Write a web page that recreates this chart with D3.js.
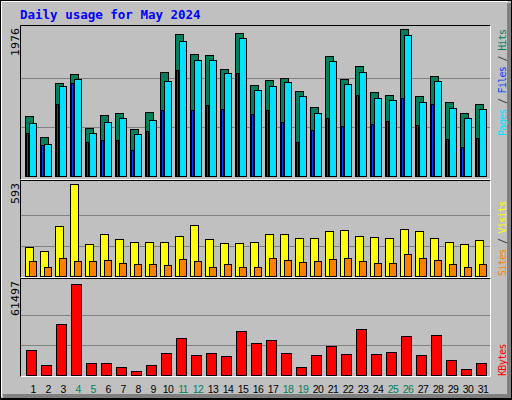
<!DOCTYPE html><html><head><meta charset="utf-8">
<script src="https://cdn.jsdelivr.net/npm/d3@7"></script>
<style>body{margin:0;background:#fff}text{font-family:"DejaVu Sans Mono",monospace}</style></head><body>
<svg id="c" width="512" height="400"></svg>
<script>
const days = d3.range(1,32);
const weekends = [4,5,11,12,18,19,25,26];
const hits  = [806,524,1250,1371,645,820,847,632,860,1398,1908,1640,1626,1438,1922,1223,1290,1317,1142,927,1613,1304,1478,1129,1089,1976,1075,1344,995,847,968];
const files = [712,430,1210,1304,578,726,780,564,753,1277,1814,1559,1559,1384,1855,1156,1210,1263,1075,847,1546,1236,1398,1048,1021,1895,995,1277,914,780,900];
const pages = [578,417,968,1250,457,484,484,349,605,887,1425,887,954,900,1384,833,887,726,457,618,780,672,1089,699,739,1048,685,968,497,390,511];
const visits = [187,161,322,593,206,271,239,219,219,219,258,329,239,213,213,219,271,271,245,245,290,297,258,251,245,303,290,245,219,206,232];
const sites  = [97,58,116,97,97,103,84,77,77,71,110,97,64,77,64,64,116,103,90,97,110,116,97,84,84,142,116,103,77,64,77];
const kbytes = [16898,6759,34471,61497,8111,8111,5407,2704,6759,14870,25008,13518,14870,12842,29740,21629,23657,14870,5407,13518,19601,14194,31091,14194,15546,26360,13518,27036,10139,4055,8111];
const maxLabels = ["1976","593","61497"];

const svg = d3.select("#c");
svg.append("rect").attr("width",512).attr("height",400).attr("fill","#c0c0c0");
svg.append("rect").attr("x",0.5).attr("y",0.5).attr("width",511).attr("height",399).attr("fill","none").attr("stroke","#000");
svg.append("path").attr("d","M1.5,397V1.5H508").attr("stroke","#fff").attr("fill","none");
svg.append("rect").attr("x",507).attr("y",3).attr("width",4).attr("height",395).attr("fill","#808080");
svg.append("rect").attr("x",3).attr("y",394).attr("width",508).attr("height",4).attr("fill","#808080");
svg.append("path").attr("d","M1,398.5H511.5V1").attr("stroke","#000").attr("fill","none");

svg.append("text").attr("x",20).attr("y",19).attr("fill","#0000ff").attr("font-weight","bold").attr("font-size",12.5).text("Daily usage for May 2024");

const x = d3.scaleLinear().domain([1,32]).range([25,490]);
const panels = [
  {top:25,bot:180,base:176.5,max:1976,ytop:29},
  {top:180,bot:278,base:276.5,max:593,ytop:184},
  {top:278,bot:377,base:375.5,max:61497,ytop:284}
];
panels.forEach((p,i)=>{
  p.y = d3.scaleLinear().domain([0,p.max]).range([p.base,p.ytop]);
  svg.append("path").attr("d",`M20.5,${p.bot}V${p.top+0.5}H490.5`).attr("stroke","#000").attr("fill","none");
  svg.append("path").attr("d",`M20.5,${p.bot-0.5}H490.5V${p.top+0.5}`).attr("stroke","#fff").attr("fill","none");
  [1/3,2/3].forEach(f=>svg.append("line").attr("x1",21).attr("x2",490).attr("y1",Math.round(p.y(p.max*f))+0.5).attr("y2",Math.round(p.y(p.max*f))+0.5).attr("stroke","#808080"));
  svg.append("text").attr("transform",`translate(19,${p.top+3}) rotate(-90)`).attr("text-anchor","end").attr("font-size",11).attr("fill","#000").style("font-family","DejaVu Sans, sans-serif").text(maxLabels[i]);
});
function bars(p,data,dx,w,color){
  svg.append("g").selectAll("rect").data(data).join("rect")
   .attr("x",(d,i)=>Math.round(x(i+1))+dx+0.5).attr("width",w)
   .attr("y",d=>Math.round(p.y(d))+0.5).attr("height",d=>p.base-Math.round(p.y(d))-0.5)
   .attr("fill",color).attr("stroke","#000");
}
bars(panels[0],hits,0,8,"#00805c");
bars(panels[0],files,4,7,"#00e0ff");
bars(panels[0],pages,1,2,"#0040ff");
bars(panels[1],visits,0,8,"#ffff00");
bars(panels[1],sites,4,7,"#ff8000");
bars(panels[2],kbytes,1,10,"#ff0000");

svg.append("g").selectAll("text").data(days).join("text")
  .attr("x",d=>x(d)+8).attr("y",393).attr("text-anchor","middle").attr("font-size",10.5)
  .attr("letter-spacing",-0.6)
  .style("font-family","Liberation Sans, Arial, sans-serif")
  .attr("fill",d=>weekends.includes(d)?"#00805c":"#000").text(d=>d);

function legend(y,parts){
  const t=svg.append("text").attr("transform",`translate(506,${y}) rotate(-90)`).attr("font-size",10).attr("letter-spacing",-0.7);
  parts.forEach(([s,c])=>t.append("tspan").attr("fill",c).text(s));
}
legend(136,[["Pages","#00e0ff"],[" / ","#404040"],["Files","#0040ff"],[" / ","#404040"],["Hits","#00805c"]]);
legend(276,[["Sites","#ff8000"],[" / ","#404040"],["Visits","#ffff00"]]);
legend(376,[["KBytes","#ff0000"]]);
</script></body></html>
